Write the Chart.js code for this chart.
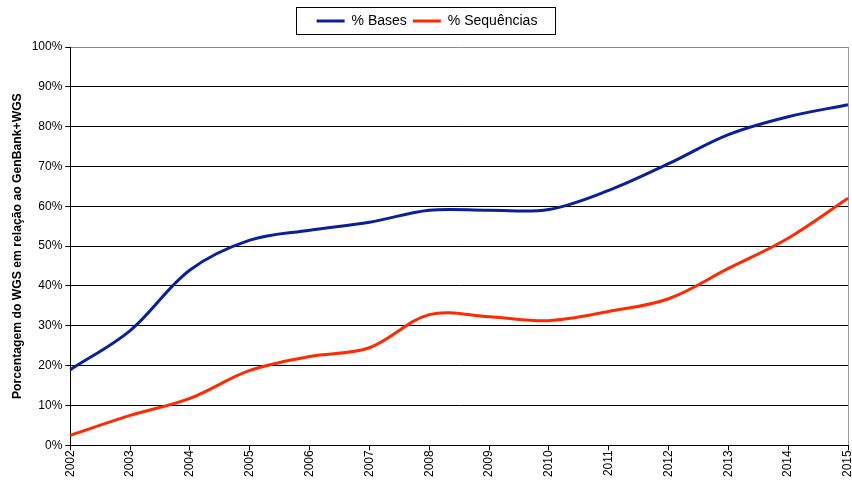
<html>
<head>
<title>WGS</title>
<style>
body { margin: 0; background: #fff; }
</style>
</head>
<body>
<script src="https://cdn.jsdelivr.net/npm/chart.js@4/dist/chart.umd.min.js"></script>
<canvas id="myChart" width="852" height="480"></canvas>
<script type="text/javascript">
var years = ["2002", "2003", "2004", "2005", "2006", "2007", "2008", "2009", "2010", "2011", "2012", "2013", "2014", "2015"];
var bases = [19, 28.8, 44, 51.5, 54, 56, 59, 59, 59.2, 64, 70.7, 78, 82.5, 85.5];
var sequencias = [2.5, 7.5, 11.8, 18.8, 22.3, 24.5, 32.8, 32.3, 31.3, 33.6, 36.8, 44.4, 52, 62];

var font = "'Liberation Sans', Arial, sans-serif";

// box round the legend items, like the spreadsheet one
var legendBox = {
  id: 'legendBox',
  afterDraw: function(chart) {
    var l = chart.legend, c = chart.ctx;
    var hb = l.legendHitBoxes;
    var x0 = Math.min.apply(null, hb.map(function(h) { return h.left; }));
    var x1 = Math.max.apply(null, hb.map(function(h) { return h.left + h.width; }));
    c.save();
    c.strokeStyle = '#000';
    c.lineWidth = 1;
    c.strokeRect(Math.round(x0 - 21) + 0.5, Math.round(l.top) - 0.5, Math.round(x1 - x0 + 38), Math.round(l.height - 3));
    c.restore();
  }
};

var ctx = document.getElementById("myChart").getContext("2d");
var myLineChart = new Chart(ctx, {
  type: 'line',
  data: {
    labels: years,
    datasets: [
      {label: "% Bases", data: bases, borderColor: "#0a1f9c", backgroundColor: "#0a1f9c",
       borderWidth: 3, pointRadius: 0, tension: 0.35, fill: false},
      {label: "% Sequências", data: sequencias, borderColor: "#ff2a00", backgroundColor: "#ff2a00",
       borderWidth: 3, pointRadius: 0, tension: 0.35, fill: false}
    ]
  },
  plugins: [legendBox],
  options: {
    responsive: false,
    animation: false,
    layout: {padding: {left: 2, right: 0, top: 8, bottom: 3}},
    plugins: {
      tooltip: {enabled: false},
      legend: {
        position: 'top',
        labels: {
          font: {family: font, size: 14},
          color: '#000',
          usePointStyle: true,
          pointStyle: 'line',
          pointStyleWidth: 28,
          padding: 6
        }
      },
      // empty title used as a spacer under the legend
      title: {display: true, text: '', weight: 500, font: {size: 1, lineHeight: 1}, padding: {top: 0, bottom: 8}}
    },
    scales: {
      x: {
        offset: false,
        border: {color: '#000', width: 1},
        grid: {
          color: function(c) { return c.index === years.length - 1 ? '#999' : 'rgba(0,0,0,0)'; },
          tickColor: '#000',
          tickLength: 5
        },
        ticks: {minRotation: 90, maxRotation: 90, color: '#000', font: {family: font, size: 12}, padding: 0},
        // rotated labels are centred on their ticks, so only half a label is needed on the right
        afterFit: function(s) { s.paddingRight = 4; }
      },
      y: {
        min: 0,
        max: 100,
        border: {color: '#000', width: 1},
        grid: {
          color: function(c) { return c.tick && c.tick.value === 100 ? '#888' : '#000'; },
          tickColor: '#000',
          tickLength: 5
        },
        ticks: {stepSize: 10, color: '#000', font: {family: font, size: 12}, padding: 3,
                callback: function(v) { return v + '%'; }},
        title: {display: true, text: 'Porcentagem do WGS em relação ao GenBank+WGS',
                color: '#000', font: {family: font, size: 12.2, weight: 'bold'}, padding: {top: 8, bottom: 4}}
      }
    }
  }
});
</script>
</body>
</html>
